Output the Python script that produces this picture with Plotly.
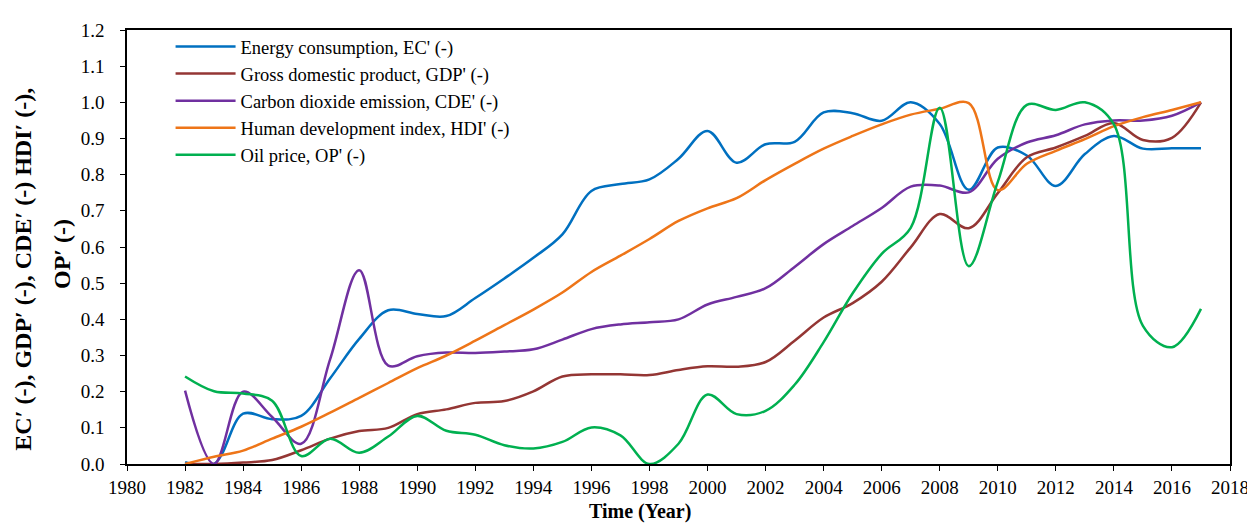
import plotly.graph_objects as go

years = list(range(1982, 2018))

ec = [0.005, 0.0, 0.139, 0.124, 0.133, 0.237, 0.346, 0.425, 0.415, 0.409, 0.459, 0.513,
      0.570, 0.635, 0.755, 0.774, 0.787, 0.844, 0.921, 0.833, 0.884, 0.891, 0.972, 0.970,
      0.949, 1.000, 0.940, 0.758, 0.875, 0.853, 0.769, 0.857, 0.907, 0.872, 0.873, 0.873]
gdp = [0.0, 0.0, 0.004, 0.011, 0.038, 0.070, 0.091, 0.100, 0.138, 0.151, 0.169, 0.174,
       0.201, 0.242, 0.248, 0.248, 0.246, 0.260, 0.270, 0.269, 0.282, 0.341, 0.405, 0.445,
       0.504, 0.599, 0.691, 0.652, 0.749, 0.848, 0.875, 0.907, 0.943, 0.896, 0.902, 1.000]
cde = [0.203, 0.0, 0.200, 0.130, 0.056, 0.290, 0.536, 0.272, 0.298, 0.308, 0.307, 0.311,
       0.317, 0.344, 0.373, 0.386, 0.392, 0.400, 0.441, 0.462, 0.486, 0.545, 0.608, 0.658,
       0.708, 0.767, 0.770, 0.751, 0.844, 0.889, 0.909, 0.939, 0.950, 0.950, 0.963, 1.000]
hdi = [0.0, 0.020, 0.037, 0.070, 0.103, 0.142, 0.183, 0.224, 0.265, 0.300, 0.341, 0.384,
       0.427, 0.474, 0.531, 0.576, 0.622, 0.672, 0.707, 0.735, 0.785, 0.830, 0.872, 0.907,
       0.939, 0.966, 0.982, 0.998, 0.757, 0.830, 0.866, 0.898, 0.934, 0.959, 0.979, 1.000]
op = [0.242, 0.201, 0.195, 0.175, 0.022, 0.070, 0.031, 0.076, 0.133, 0.092, 0.081, 0.052,
      0.043, 0.061, 0.101, 0.079, 0.0, 0.056, 0.192, 0.138, 0.147, 0.219, 0.337, 0.472,
      0.581, 0.653, 0.985, 0.547, 0.780, 0.993, 0.979, 1.000, 0.939, 0.382, 0.323, 0.429]

series = [
    ("Energy consumption, EC' (-)", ec, "#0070C0"),
    ("Gross domestic product, GDP' (-)", gdp, "#943634"),
    ("Carbon dioxide emission, CDE' (-)", cde, "#7030A0"),
    ("Human development index, HDI' (-)", hdi, "#EE7518"),
    ("Oil price, OP' (-)", op, "#00B050"),
]

FONT = "Liberation Serif, Times New Roman, serif"

fig = go.Figure()
for name, vals, col in series:
    fig.add_trace(go.Scatter(
        x=years, y=vals, name=name, mode="lines",
        line=dict(color=col, width=2.5, shape="spline", smoothing=1.0),
    ))

fig.update_layout(
    width=1255, height=525,
    margin=dict(l=119, r=33, t=14, b=69),
    paper_bgcolor="white", plot_bgcolor="white",
    font=dict(family=FONT, size=19, color="black"),
    showlegend=True,
    legend=dict(
        x=0.0395, y=1.0045, xanchor="left", yanchor="top",
        font=dict(family=FONT, size=18.5, color="black"),
        bgcolor="rgba(0,0,0,0)", itemwidth=60,
    ),
    xaxis=dict(
        range=[1980, 2018], tick0=1980, dtick=2, showgrid=False, zeroline=False,
        showline=True, linecolor="black", linewidth=1.5, mirror=True,
        ticks="outside", ticklen=5, tickwidth=1.2, tickcolor="black",
        tickfont=dict(family=FONT, size=19, color="black"),
    ),
    yaxis=dict(
        range=[0, 1.2], tick0=0, dtick=0.1, tickformat=".1f", showgrid=False, zeroline=False,
        showline=True, linecolor="black", linewidth=1.5, mirror=True,
        ticks="outside", ticklen=5, tickwidth=1.2, tickcolor="black",
        tickfont=dict(family=FONT, size=19, color="black"), ticklabelstandoff=12,
    ),
    annotations=[
        dict(text="<b>EC′ (-), GDP′ (-), CDE′ (-) HDI′ (-),</b>", textangle=-90,
             xref="paper", yref="paper", x=-0.0943, y=0.45, xanchor="center", yanchor="middle",
             showarrow=False, font=dict(family=FONT, size=24, color="black")),
        dict(text="<b>OP′ (-)</b>", textangle=-90,
             xref="paper", yref="paper", x=-0.0589, y=0.484, xanchor="center", yanchor="middle",
             showarrow=False, font=dict(family=FONT, size=24, color="black")),
        dict(text="<b>Time (Year)</b>", xref="paper", yref="paper", x=0.465, y=-0.1086,
             xanchor="center", yanchor="middle", showarrow=False,
             font=dict(family=FONT, size=20, color="black")),
    ],
)

fig.write_html("out.html")
